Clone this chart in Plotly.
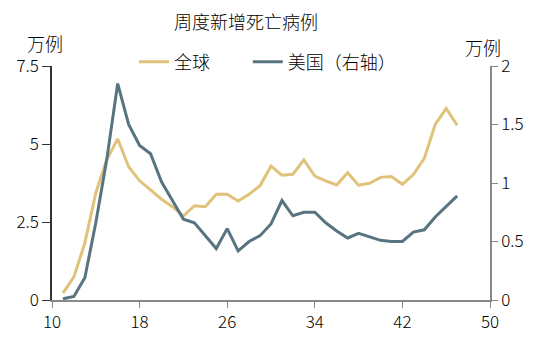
import plotly.graph_objects as go

weeks = list(range(11, 48))
global_deaths = [0.22, 0.74, 1.83, 3.43, 4.5, 5.16, 4.27, 3.82, 3.53, 3.23, 2.99, 2.69,
                 3.02, 2.99, 3.39, 3.39, 3.17, 3.39, 3.66, 4.29, 4.0, 4.03, 4.49, 3.97,
                 3.82, 3.69, 4.08, 3.68, 3.74, 3.93, 3.96, 3.71, 4.02, 4.54, 5.63, 6.14, 5.6]
us_deaths = [0.01, 0.03, 0.19, 0.66, 1.2, 1.85, 1.5, 1.32, 1.25, 1.01, 0.85, 0.69,
             0.66, 0.55, 0.44, 0.61, 0.42, 0.50, 0.55, 0.65, 0.85, 0.72, 0.75, 0.75,
             0.66, 0.59, 0.53, 0.57, 0.54, 0.51, 0.50, 0.50, 0.58, 0.60, 0.71, 0.80, 0.89]
x_ticks = [10, 18, 26, 34, 42, 50]
left_ticks = [0, 2.5, 5, 7.5]
right_ticks = [0, 0.5, 1, 1.5, 2]

FONT = "Noto Sans CJK SC"
GOLD = "#E0C27A"
BLUE = "#587481"
TXT = dict(family=FONT, size=18, color="black", weight=300)
TICK = dict(family=FONT, size=17, color="black", weight=300)

fig = go.Figure()
fig.add_trace(go.Scatter(x=weeks, y=global_deaths, name="全球", mode="lines",
                         line=dict(color=GOLD, width=3), legend="legend"))
fig.add_trace(go.Scatter(x=weeks, y=us_deaths, name="美国（右轴）", mode="lines",
                         line=dict(color=BLUE, width=3), yaxis="y2", legend="legend2"))

leg_common = dict(orientation="h", xref="paper", xanchor="left",
                  y=1.017, yref="paper", yanchor="middle",
                  font=TXT, bgcolor="rgba(0,0,0,0)")

fig.update_layout(
    width=543, height=345,
    margin=dict(l=52, r=53, t=66, b=45),
    paper_bgcolor="white", plot_bgcolor="white",
    font=TXT,
    title=dict(text="周度新增死亡病例", x=246/543, xref="container", xanchor="center",
               y=1-23/345, yref="container", yanchor="middle", font=TXT),
    showlegend=True,
    legend=dict(x=0.187, **leg_common),
    legend2=dict(x=0.447, **leg_common),
    xaxis=dict(range=[10, 50], tickvals=x_ticks, showgrid=False, zeroline=False,
               showline=True, linecolor="#888888", linewidth=1.5,
               ticks="outside", ticklen=6, tickcolor="#888888", tickfont=TICK),
    yaxis=dict(range=[0, 7.5], tickvals=left_ticks, ticktext=["0", "2.5", "5", "7.5"],
               showgrid=False, zeroline=False,
               showline=True, linecolor="#333333", linewidth=1.5,
               ticks="outside", ticklen=8, tickcolor="#333333", tickfont=TICK),
    yaxis2=dict(range=[0, 2], tickvals=right_ticks, ticktext=["0", "0.5", "1", "1.5", "2"],
                overlaying="y", side="right", showgrid=False, zeroline=False,
                showline=True, linecolor="#888888", linewidth=1.5,
                ticks="outside", ticklen=6, tickcolor="#888888", tickfont=TICK),
    annotations=[
        dict(text="万例", x=(45-52)/438, y=(300-43)/234, xref="paper", yref="paper",
             xanchor="center", yanchor="middle", showarrow=False, font=TXT),
        dict(text="万例", x=(483-52)/438, y=(300-47)/234, xref="paper", yref="paper",
             xanchor="center", yanchor="middle", showarrow=False, font=TXT),
    ],
)

fig.write_html("out.html")
